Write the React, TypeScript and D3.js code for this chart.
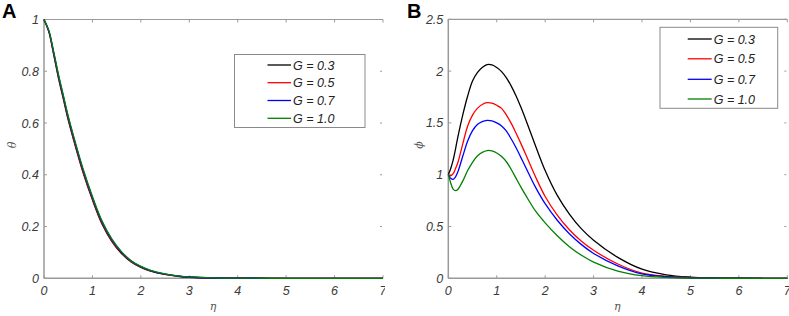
import React from "react";
import * as d3 from "d3";

const seriesNames = ["G = 0.3", "G = 0.5", "G = 0.7", "G = 1.0"];
const seriesColors = ["#000000", "#ff0000", "#0000ff", "#008000"];

const etaA = [0, 0.1, 0.2, 0.3, 0.4, 0.5, 0.6, 0.8, 1.0, 1.2, 1.4, 1.6, 1.8, 2.0, 2.2, 2.5, 2.8, 3.0, 3.5, 4, 5, 6, 7];
const thetaG03 = [1, 0.952, 0.864, 0.773, 0.692, 0.612, 0.542, 0.412, 0.303, 0.209, 0.143, 0.096, 0.063, 0.042, 0.028, 0.015, 0.007, 0.004, 0.001, 0.0004, 0, 0, 0];
const thetaG05 = [1, 0.954, 0.868, 0.777, 0.697, 0.617, 0.547, 0.417, 0.307, 0.213, 0.146, 0.099, 0.065, 0.044, 0.029, 0.0155, 0.0075, 0.0045, 0.0013, 0.0005, 0, 0, 0];
const thetaG07 = [1, 0.956, 0.872, 0.782, 0.702, 0.622, 0.552, 0.422, 0.312, 0.217, 0.149, 0.101, 0.067, 0.045, 0.03, 0.016, 0.008, 0.005, 0.0015, 0.0005, 0, 0, 0];
const thetaG10 = [1, 0.958, 0.876, 0.787, 0.707, 0.627, 0.557, 0.427, 0.316, 0.221, 0.152, 0.103, 0.068, 0.046, 0.031, 0.017, 0.0085, 0.0055, 0.0017, 0.0006, 0, 0, 0];

const etaB = [0, 0.05, 0.1, 0.15, 0.2, 0.3, 0.4, 0.5, 0.6, 0.7, 0.8, 0.9, 1.0, 1.1, 1.2, 1.3, 1.4, 1.5, 1.6, 1.8, 2.0, 2.25, 2.5, 2.75, 3.0, 3.5, 4.0, 4.5, 5.0, 5.5, 6.0, 7.0];
const phiG03 = [1.0, 1.06, 1.14, 1.25, 1.37, 1.58, 1.76, 1.905, 1.985, 2.035, 2.062, 2.06, 2.035, 1.995, 1.935, 1.855, 1.76, 1.65, 1.53, 1.28, 1.04, 0.8, 0.62, 0.477, 0.368, 0.202, 0.088, 0.034, 0.012, 0.004, 0.001, 0];
const phiG05 = [1.0, 0.99, 1.01, 1.06, 1.12, 1.3, 1.47, 1.575, 1.64, 1.678, 1.695, 1.69, 1.67, 1.64, 1.575, 1.495, 1.4, 1.3, 1.195, 0.98, 0.79, 0.61, 0.468, 0.357, 0.27, 0.138, 0.05, 0.019, 0.007, 0.002, 0.0005, 0];
const phiG07 = [1.0, 0.965, 0.955, 0.98, 1.03, 1.18, 1.325, 1.425, 1.485, 1.513, 1.525, 1.52, 1.5, 1.47, 1.42, 1.345, 1.26, 1.165, 1.07, 0.88, 0.72, 0.56, 0.43, 0.325, 0.24, 0.12, 0.042, 0.015, 0.005, 0.0015, 0.0004, 0];
const phiG10 = [1.0, 0.92, 0.86, 0.846, 0.86, 0.94, 1.04, 1.12, 1.18, 1.215, 1.233, 1.23, 1.21, 1.175, 1.125, 1.05, 0.965, 0.88, 0.8, 0.65, 0.535, 0.41, 0.305, 0.222, 0.157, 0.07, 0.025, 0.008, 0.0025, 0.001, 0.0003, 0];

const xTicks = [0, 1, 2, 3, 4, 5, 6, 7];
const yTicksA = [0, 0.2, 0.4, 0.6, 0.8, 1];
const yTicksB = [0, 0.5, 1, 1.5, 2, 2.5];

const AXIS = "#9a9a9a";
const TICKTEXT = "#3a3a3a";
const FONT = "'Liberation Sans', Arial, sans-serif";

type PanelProps = {
  left: number;
  right: number;
  top: number;
  bottom: number;
  yMax: number;
  yTicks: number[];
  eta: number[];
  series: number[][];
  letter: string;
  letterX: number;
  yLabel: string;
  yLabelX: number;
  legend: { x0: number; x1: number; y0: number; y1: number; lx0: number; lx1: number; rows: number[] };
  clipRight: number;
  id: string;
};

function Panel(p: PanelProps) {
  const x = d3.scaleLinear().domain([0, 7]).range([p.left, p.right]);
  const y = d3.scaleLinear().domain([0, p.yMax]).range([p.bottom, p.top]);
  const line = d3
    .line<[number, number]>()
    .x((d) => x(d[0]))
    .y((d) => y(d[1]))
    .curve(d3.curveCatmullRom.alpha(0.5));
  return (
    <g>
      <defs>
        <clipPath id={p.id}>
          <rect x={0} y={0} width={p.clipRight} height={316} />
        </clipPath>
      </defs>
      <g clipPath={`url(#${p.id})`}>
        <line x1={p.left} x2={p.right} y1={p.top} y2={p.top} stroke={AXIS} strokeWidth={1.2} />
        <line x1={p.left} x2={p.left} y1={p.top} y2={p.bottom} stroke={AXIS} strokeWidth={1.5} />
        <line x1={p.left} x2={p.right} y1={p.bottom} y2={p.bottom} stroke={AXIS} strokeWidth={1.5} />
        {xTicks.map((t) => (
          <g key={"xt" + t}>
            <line x1={x(t)} x2={x(t)} y1={p.bottom} y2={p.bottom - 3} stroke={AXIS} strokeWidth={1} />
            <line x1={x(t)} x2={x(t)} y1={p.top} y2={p.top + 3} stroke={AXIS} strokeWidth={1} />
            <text
              x={x(t)}
              y={p.bottom + 17}
              textAnchor="middle"
              fontFamily={FONT}
              fontStyle="italic"
              fontSize={12.5}
              fill={TICKTEXT}
            >
              {t}
            </text>
          </g>
        ))}
        {p.yTicks.map((t) => (
          <g key={"yt" + t}>
            <line x1={p.left} x2={p.left + 3} y1={y(t)} y2={y(t)} stroke={AXIS} strokeWidth={1} />
            <line x1={p.right - 3} x2={p.right - 1} y1={y(t)} y2={y(t)} stroke={AXIS} strokeWidth={1} />
            <text
              x={p.left - 5}
              y={y(t) + 4.5}
              textAnchor="end"
              fontFamily={FONT}
              fontStyle="italic"
              fontSize={12.5}
              fill={TICKTEXT}
            >
              {t}
            </text>
          </g>
        ))}
        {p.series.map((s, i) => (
          <path
            key={"s" + i}
            d={line(p.eta.map((e, j) => [e, s[j]] as [number, number])) || ""}
            fill="none"
            stroke={seriesColors[i]}
            strokeWidth={1.3}
          />
        ))}
        <text
          x={(p.left + p.right) / 2 - 0.5}
          y={p.bottom + 32}
          textAnchor="middle"
          fontFamily="'DejaVu Serif', serif"
          fontStyle="italic"
          fontSize={11}
          fill="#555"
        >
          η
        </text>
        <text
          transform={`translate(${p.yLabelX},${145}) rotate(-90)`}
          textAnchor="middle"
          fontFamily="'DejaVu Serif', serif"
          fontStyle="italic"
          fontSize={11}
          fill="#555"
        >
          {p.yLabel}
        </text>
        <rect
          x={p.legend.x0}
          y={p.legend.y0}
          width={p.legend.x1 - p.legend.x0}
          height={p.legend.y1 - p.legend.y0}
          fill="#fff"
          stroke="#8a8a8a"
          strokeWidth={1}
        />
        {seriesNames.map((n, i) => (
          <g key={"lg" + i}>
            <line
              x1={p.legend.lx0}
              x2={p.legend.lx1}
              y1={p.legend.rows[i]}
              y2={p.legend.rows[i]}
              stroke={seriesColors[i]}
              strokeWidth={1.3}
            />
            <text
              x={p.legend.lx1 + 2}
              y={p.legend.rows[i] + 4.5}
              fontFamily={FONT}
              fontStyle="italic"
              fontSize={12.5}
              fill="#222"
            >
              {n}
            </text>
          </g>
        ))}
      </g>
      <text x={p.letterX} y={18} fontFamily={FONT} fontWeight="bold" fontSize={20} fill="#000">
        {p.letter}
      </text>
    </g>
  );
}

export default function App() {
  return (
    <svg
      width={789}
      height={316}
      style={{ position: "absolute", left: 0, top: 0, background: "#fff" }}
    >
      <rect x={0} y={0} width={789} height={316} fill="#fff" />
      <Panel
        id="clipA"
        left={44}
        right={383}
        top={19.5}
        bottom={278.3}
        yMax={1}
        yTicks={yTicksA}
        eta={etaA}
        series={[thetaG03, thetaG05, thetaG07, thetaG10]}
        letter="A"
        letterX={2}
        yLabel="θ"
        yLabelX={16}
        legend={{ x0: 234.5, x1: 365, y0: 54.5, y1: 127.5, lx0: 267.5, lx1: 291, rows: [65, 82.7, 100.5, 118.3] }}
        clipRight={385}
      />
      <Panel
        id="clipB"
        left={448.3}
        right={787.3}
        top={19.3}
        bottom={278.3}
        yMax={2.5}
        yTicks={yTicksB}
        eta={etaB}
        series={[phiG03, phiG05, phiG07, phiG10]}
        letter="B"
        letterX={407}
        yLabel="ϕ"
        yLabelX={423}
        legend={{ x0: 660, x1: 777.7, y0: 27.3, y1: 108.3, lx0: 687.7, lx1: 711.7, rows: [39, 58.8, 79.3, 99] }}
        clipRight={789}
      />
    </svg>
  );
}
